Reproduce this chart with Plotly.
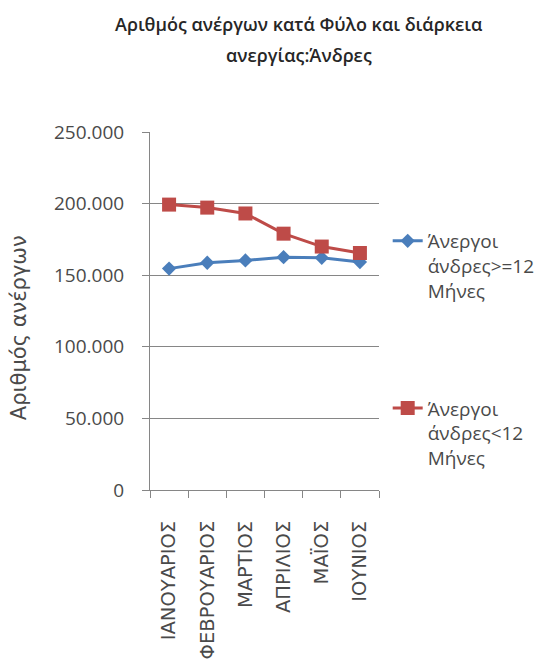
import plotly.graph_objects as go

months = ["ΙΑΝΟΥΑΡΙΟΣ", "ΦΕΒΡΟΥΑΡΙΟΣ", "ΜΑΡΤΙΟΣ", "ΑΠΡΙΛΙΟΣ", "ΜΑΪΟΣ", "ΙΟΥΝΙΟΣ"]
long_term = [154600, 158700, 160300, 162600, 162100, 159200]
short_term = [199300, 197200, 193100, 179000, 170000, 165500]
series_names = ["Άνεργοι<br>άνδρες&gt;=12<br>Μήνες", "Άνεργοι<br>άνδρες&lt;12<br>Μήνες"]
title_lines = ["Αριθμός ανέργων κατά Φύλο και διάρκεια", "ανεργίας:Άνδρες"]
y_title = "Αριθμός ανέργων"
y_ticks = [0, 50000, 100000, 150000, 200000, 250000]

# page body has an 8px margin, so figure coordinates = reference pixels - 8
OFF = 8
W, H = 552 - OFF, 671 - OFF
L, R, T, B = 150 - OFF, 387 - OFF, 132 - OFF, 498 - OFF
FONT = "Open Sans"
TXT = "#4a4a4a"
GRID = "#868686"

fig = go.Figure()
fig.add_trace(go.Scatter(
    x=months, y=long_term, name=series_names[0], mode="lines+markers",
    line=dict(color="#4A7EBB", width=3),
    marker=dict(symbol="diamond", size=11, color="#4A7EBB"),
    legend="legend", showlegend=True))
fig.add_trace(go.Scatter(
    x=months, y=short_term, name=series_names[1], mode="lines+markers",
    line=dict(color="#BE4B48", width=3),
    marker=dict(symbol="square", size=14, color="#BE4B48"),
    legend="legend2", showlegend=True))

def px_x(p):
    return (p - OFF - L) / (R - L)

def px_y(p):
    return (B - (p - OFF)) / (B - T)

leg_common = dict(font=dict(family=FONT, size=19, color=TXT), bgcolor="rgba(0,0,0,0)",
                  valign="top", xanchor="left", yanchor="top", itemwidth=30,
                  visible=True)

fig.update_layout(
    width=W, height=H,
    margin=dict(l=L, r=W - R, t=T, b=H - B, pad=0),
    paper_bgcolor="white", plot_bgcolor="white",
    separators=",.",
    showlegend=True,
    font=dict(family=FONT, color=TXT),
    legend=dict(x=px_x(396), y=px_y(224), **leg_common),
    legend2=dict(x=px_x(396), y=px_y(395), **leg_common),
    xaxis=dict(
        type="category", tickson="boundaries", ticks="outside", ticklen=7,
        tickcolor=GRID, showline=True, linecolor=GRID, linewidth=1,
        showgrid=False, tickangle=-90,
        tickfont=dict(family="DejaVu Sans", size=19.5, color=TXT),
        ticklabelstandoff=22, range=[-0.5, 5.5]),
    yaxis=dict(
        range=[0, 250000], tickvals=y_ticks, tickformat=",d",
        ticks="outside", ticklen=7, tickcolor=GRID,
        showline=True, linecolor=GRID, linewidth=1,
        showgrid=True, gridcolor=GRID, gridwidth=1, zeroline=False,
        tickfont=dict(family=FONT, size=19, color=TXT), ticklabelstandoff=14),
    annotations=[
        dict(text=title_lines[0], xref="paper", yref="paper", x=px_x(304), y=px_y(22),
             xanchor="center", yanchor="middle", showarrow=False,
             font=dict(family=FONT, size=18, color="#262626", weight=600)),
        dict(text=title_lines[1], xref="paper", yref="paper", x=px_x(304), y=px_y(53),
             xanchor="center", yanchor="middle", showarrow=False,
             font=dict(family=FONT, size=18, color="#262626", weight=600)),
        dict(text=y_title, xref="paper", yref="paper", x=px_x(14), y=px_y(332),
             xanchor="center", yanchor="middle", textangle=-90, showarrow=False,
             font=dict(family="DejaVu Sans", size=21, color=TXT)),
    ],
)

fig.write_html("out.html")
